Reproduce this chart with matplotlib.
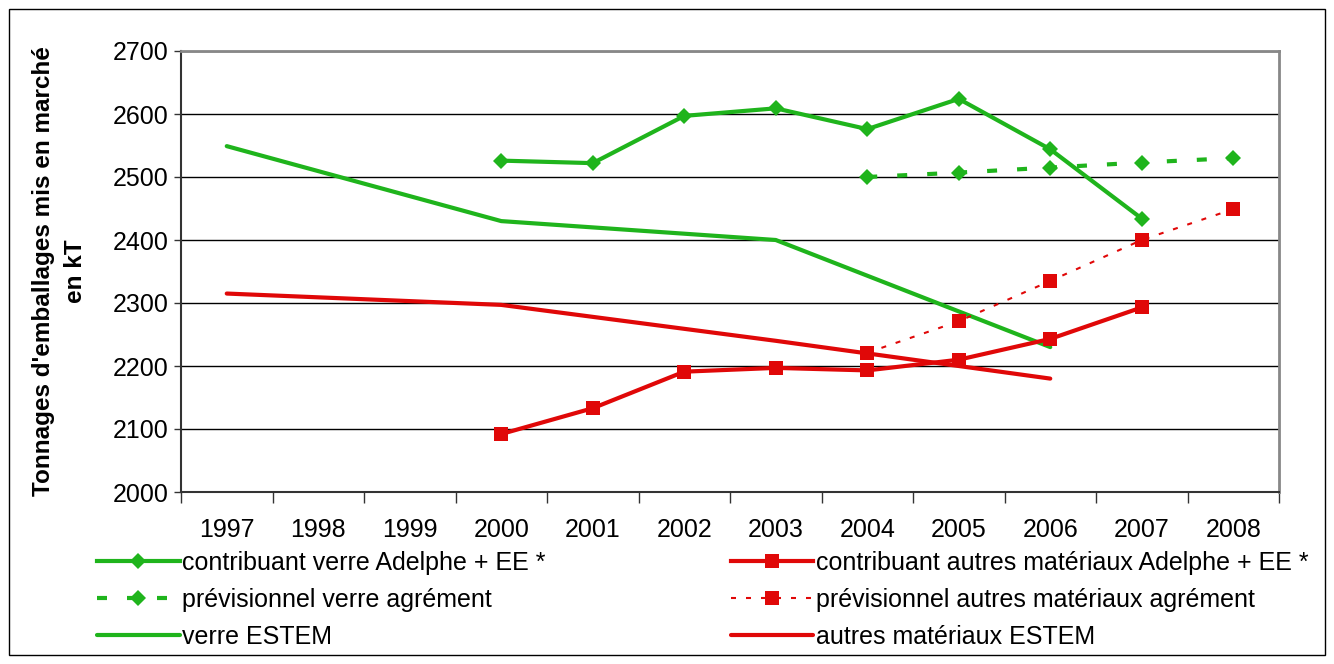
import numpy as np
import matplotlib
matplotlib.use('Agg')
import matplotlib.pyplot as plt
from matplotlib.patches import Rectangle

plt.rcParams['font.family'] = ['Liberation Sans', 'DejaVu Sans']

# categories (years)
years = ['1997', '1998', '1999', '2000', '2001', '2002', '2003', '2004', '2005', '2006', '2007', '2008']

# series values (None = pas de valeur)
verre_adelphe = [None, None, None, 2526, 2522, 2597, 2609, 2576, 2624, 2544, 2434, None]
verre_prev = [None, None, None, None, None, None, None, 2500, 2507, 2515, 2523, 2530]
verre_estem = [2549, None, None, 2430, None, None, 2400, None, None, 2230, None, None]
autres_adelphe = [None, None, None, 2092, 2133, 2191, 2197, 2193, 2210, 2243, 2293, None]
autres_prev = [None, None, None, None, None, None, None, 2221, 2271, 2335, 2400, 2449]
autres_estem = [2315, None, None, 2297, None, None, 2240, None, None, 2180, None, None]

labels = ['contribuant verre Adelphe + EE *',
          'prévisionnel verre agrément',
          'verre ESTEM',
          'contribuant autres matériaux Adelphe + EE *',
          'prévisionnel autres matériaux agrément',
          'autres matériaux ESTEM']

vert = '#1FB41C'
rouge = '#E00808'


def pts(vals):
    # Excel relie les points en sautant les cases vides
    x = [i for i, v in enumerate(vals) if v is not None]
    y = [v for v in vals if v is not None]
    return x, y


fig = plt.figure(figsize=(13.34, 6.64), dpi=100)
ax = fig.add_axes([181 / 1334, 1 - 492 / 664, 1098 / 1334, 441 / 664])

l1, = ax.plot(*pts(verre_adelphe), color=vert, lw=3, marker='D', ms=8, mew=0)
l2, = ax.plot(*pts(verre_prev), color=vert, lw=3, ls=(0, (2.4, 4.8)), marker='D', ms=8, mew=0)
l3, = ax.plot(*pts(verre_estem), color=vert, lw=3, solid_capstyle='round')
l4, = ax.plot(*pts(autres_adelphe), color=rouge, lw=3, marker='s', ms=10.5, mew=0)
l5, = ax.plot(*pts(autres_prev), color=rouge, lw=1.5, ls=(0, (2.4, 4.8)), marker='s', ms=10.5, mew=0)
l6, = ax.plot(*pts(autres_estem), color=rouge, lw=3, solid_capstyle='round')

ax.set_xlim(-0.5, len(years) - 0.5)
ax.set_ylim(2000, 2700)
ax.set_yticks(np.arange(2000, 2701, 100))
ax.set_xticks(range(len(years)))
ax.set_xticklabels(years)
ax.set_xticks(np.arange(-0.5, len(years), 1), minor=True)
ax.tick_params(axis='x', which='major', length=0, pad=19, labelsize=18)
ax.tick_params(axis='x', which='minor', length=8, width=1, color='#333333', direction='out')
ax.tick_params(axis='y', length=5, width=1, color='#333333', pad=4, labelsize=18)
ax.grid(axis='y', color='black', lw=1)
ax.set_axisbelow(True)
for s in ['top', 'right']:
    ax.spines[s].set_color('#888888')
    ax.spines[s].set_linewidth(2)
for s in ['left', 'bottom']:
    ax.spines[s].set_color('#333333')
    ax.spines[s].set_linewidth(1.5)

fig.text(60 / 1334, 1 - 271.5 / 664, "Tonnages d'emballages mis en marché\nen kT",
         rotation=90, ha='center', va='center', ma='center',
         fontsize=17.5, fontweight='bold', linespacing=1.5)

fig.legend([l1, l2, l3, l4, l5, l6], labels, ncol=2, loc='upper left',
           bbox_to_anchor=(97 / 1334, 1 - 551 / 664), frameon=False,
           fontsize=18, handlelength=3.3, handletextpad=0.1,
           columnspacing=7.4, labelspacing=0.52, borderpad=0, borderaxespad=0)

fig.patches.append(Rectangle((9 / 1334, 9 / 664), 1316 / 1334, 646 / 664,
                             transform=fig.transFigure, fill=False,
                             edgecolor='black', lw=1))

fig.savefig('out.png', dpi=100)
